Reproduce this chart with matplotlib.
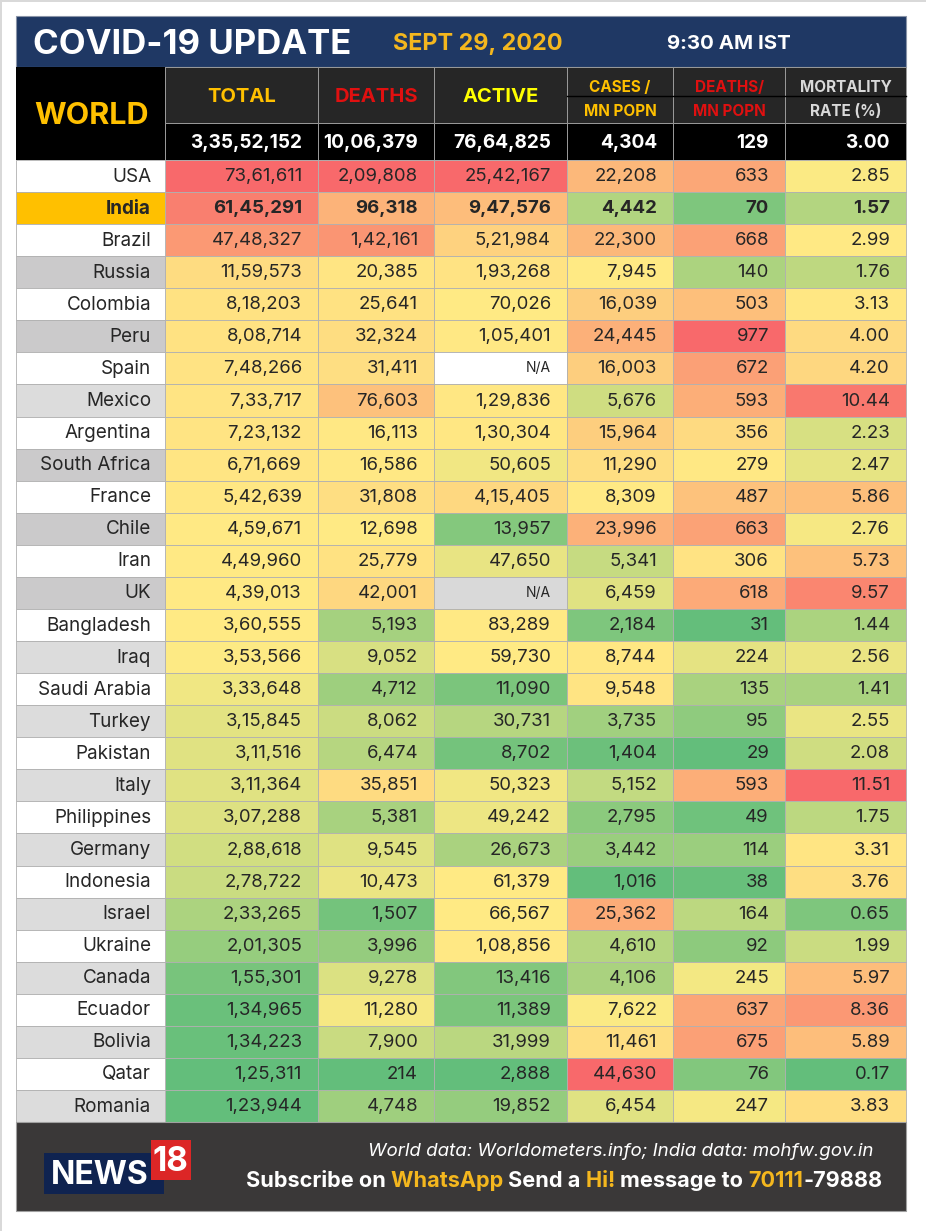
"""COVID-19 world update table, heat coloured per column like a spreadsheet"""

import numpy as np
import matplotlib
matplotlib.use("Agg")
import matplotlib.pyplot as plt
from matplotlib.colors import LinearSegmentedColormap, TwoSlopeNorm
from matplotlib.patches import Rectangle

plt.rcParams["font.family"] = ["Inter", "DejaVu Sans"]

countries = ["USA", "India", "Brazil", "Russia", "Colombia", "Peru", "Spain", "Mexico",
             "Argentina", "South Africa", "France", "Chile", "Iran", "UK", "Bangladesh",
             "Iraq", "Saudi Arabia", "Turkey", "Pakistan", "Italy", "Philippines", "Germany",
             "Indonesia", "Israel", "Ukraine", "Canada", "Ecuador", "Bolivia", "Qatar", "Romania"]
total = [7361611, 6145291, 4748327, 1159573, 818203, 808714, 748266, 733717, 723132, 671669,
         542639, 459671, 449960, 439013, 360555, 353566, 333648, 315845, 311516, 311364,
         307288, 288618, 278722, 233265, 201305, 155301, 134965, 134223, 125311, 123944]
deaths = [209808, 96318, 142161, 20385, 25641, 32324, 31411, 76603, 16113, 16586,
          31808, 12698, 25779, 42001, 5193, 9052, 4712, 8062, 6474, 35851,
          5381, 9545, 10473, 1507, 3996, 9278, 11280, 7900, 214, 4748]
active = [2542167, 947576, 521984, 193268, 70026, 105401, None, 129836, 130304, 50605,
          415405, 13957, 47650, None, 83289, 59730, 11090, 30731, 8702, 50323,
          49242, 26673, 61379, 66567, 108856, 13416, 11389, 31999, 2888, 19852]
cases_mn = [22208, 4442, 22300, 7945, 16039, 24445, 16003, 5676, 15964, 11290,
            8309, 23996, 5341, 6459, 2184, 8744, 9548, 3735, 1404, 5152,
            2795, 3442, 1016, 25362, 4610, 4106, 7622, 11461, 44630, 6454]
deaths_mn = [633, 70, 668, 140, 503, 977, 672, 593, 356, 279,
             487, 663, 306, 618, 31, 224, 135, 95, 29, 593,
             49, 114, 38, 164, 92, 245, 637, 675, 76, 247]
mortality = [2.85, 1.57, 2.99, 1.76, 3.13, 4.00, 4.20, 10.44, 2.23, 2.47,
             5.86, 2.76, 5.73, 9.57, 1.44, 2.56, 1.41, 2.55, 2.08, 11.51,
             1.75, 3.31, 3.76, 0.65, 1.99, 5.97, 8.36, 5.89, 0.17, 3.83]
world_totals = ["3,35,52,152", "10,06,379", "76,64,825", "4,304", "129", "3.00"]
darker_rows = ["Russia", "Peru", "South Africa", "Chile", "UK"]

NAVY = "#1f3864"
GOLD = "#f4b71e"
GRID = "#b0b0b0"
INK = "#262626"
scale = LinearSegmentedColormap.from_list("rdylgn", ["#63be7b", "#ffeb84", "#f8696b"])
col_x = [165, 318, 434, 567, 673, 785, 906]
table_top, row_h = 160, 32.07


def indian(n):
    """group digits the Indian way: 73,61,611"""
    s = str(n)
    if len(s) <= 3:
        return s
    head, tail = s[:-3], s[-3:]
    parts = []
    while len(head) > 2:
        parts.insert(0, head[-2:])
        head = head[:-2]
    parts.insert(0, head)
    return ",".join(parts) + "," + tail


def box(x0, y0, x1, y1, color, edge="none", lw=0.0):
    ax.add_patch(Rectangle((x0, y0), x1 - x0, y1 - y0, facecolor=color, edgecolor=edge, linewidth=lw))


def parts_text(x, y, parts, size, **kw):
    """one line of text with several colours, left to right"""
    r = fig.canvas.get_renderer()
    for s, c in parts:
        t = ax.text(x, y, s, color=c, fontsize=size, va="center", ha="left", **kw)
        x = t.get_window_extent(r).x1


fig = plt.figure(figsize=(9.26, 12.31), dpi=100, facecolor="white")
ax = fig.add_axes([0, 0, 1, 1])
ax.set_xlim(0, 926)
ax.set_ylim(1231, 0)
ax.axis("off")

# page edge
box(0, 0, 926, 2, "#d9d9d9")
box(0, 0, 2, 1231, "#d9d9d9")

# title band
box(16, 16, 906, 67, NAVY, "#8a94a8", 0.8)
ax.text(33, 45, "COVID-19 UPDATE", color="white", fontsize=25, fontweight="bold", va="center")
ax.text(393, 44, "SEPT 29, 2020", color=GOLD, fontsize=16.8, fontweight="bold", va="center")
ax.text(667, 44, "9:30 AM IST", color="white", fontsize=14.7, fontweight="bold", va="center")

# header block
box(16, 67, 165, 160, "black")
ax.text(92, 116, "WORLD", color="#ffc000", fontsize=22, fontweight="bold", ha="center", va="center")
for x0, x1 in zip(col_x[:-1], col_x[1:]):
    box(x0, 67, x1, 123, "#262626", "#9a9a9a", 0.7)
    box(x0, 123, x1, 160, "black", "#9a9a9a", 0.7)
ax.plot([567, 906], [96, 96], color="black", lw=1.0)

for x0, x1, lab, c in zip(col_x[:3], col_x[1:4], ["TOTAL", "DEATHS", "ACTIVE"], ["#ffc000", "#e01010", "#ffff00"]):
    ax.text((x0 + x1) / 2, 97, lab, color=c, fontsize=14.5, fontweight="bold", ha="center", va="center")
heads = [("CASES /", "MN POPN", "#ffc000"), ("DEATHS/", "MN POPN", "#e01010"), ("MORTALITY", "RATE (%)", "#d9d9d9")]
for x0, x1, (top, bot, c) in zip(col_x[3:-1], col_x[4:], heads):
    ax.text((x0 + x1) / 2, 87, top, color=c, fontsize=11, fontweight="bold", ha="center", va="center")
    ax.text((x0 + x1) / 2, 111, bot, color=c, fontsize=11, fontweight="bold", ha="center", va="center")
for x1, lab in zip(col_x[1:], world_totals):
    ax.text(x1 - 16, 143, lab, color="white", fontsize=13.7, fontweight="bold", ha="right", va="center")

# body
columns = [total, deaths, active, cases_mn, deaths_mn, mortality]
formats = [indian, indian, indian, indian, indian, lambda v: f"{v:.2f}"]
for c, (vals, fmt) in enumerate(zip(columns, formats)):
    known = np.array([v for v in vals if v is not None], dtype=float)
    norm = TwoSlopeNorm(vmin=known.min(), vcenter=np.median(known), vmax=known.max())
    for i, v in enumerate(vals):
        y0 = table_top + i * row_h
        if v is None:
            box(col_x[c], y0, col_x[c + 1], y0 + row_h, "white" if i % 2 == 0 else "#d9d9d9", GRID, 0.6)
            ax.text(col_x[c + 1] - 16, y0 + row_h / 2, "N/A", color=INK, fontsize=10, ha="right", va="center")
            continue
        box(col_x[c], y0, col_x[c + 1], y0 + row_h, scale(norm(v)), GRID, 0.6)
        ax.text(col_x[c + 1] - 16, y0 + row_h / 2 + 0.5, fmt(v), color=INK, fontsize=13.4,
                fontweight="bold" if i == 1 else "normal", ha="right", va="center")

for i, name in enumerate(countries):
    y0 = table_top + i * row_h
    if name == "India":
        bg = "#ffc000"
    elif i % 2 == 0:
        bg = "white"
    else:
        bg = "#cbcacb" if name in darker_rows else "#dcdcdc"
    box(16, y0, 165, y0 + row_h, bg, GRID, 0.6)
    ax.text(151, y0 + row_h / 2 + 0.5, name, color=INK, fontsize=13.6,
            fontweight="bold" if name == "India" else "normal", ha="right", va="center")

# footer
box(16, 1122, 906, 1211, "#3a3838", "#a0a0a0", 0.8)
box(44, 1153, 164, 1194, "#0f2350")
box(151, 1140, 191, 1180, "#dc2626")
ax.text(100, 1175, "NEWS", color="white", fontsize=23, fontweight="bold", ha="center", va="center")
ax.text(170.5, 1162, "18", color="white", fontsize=24, fontweight="bold", ha="center", va="center")
ax.text(873, 1151, "World data: Worldometers.info; India data: mohfw.gov.in", color="white",
        fontsize=13.5, style="italic", ha="right", va="center")
fig.canvas.draw()
parts_text(246, 1181, [("Subscribe on ", "white"), ("WhatsApp ", GOLD), ("Send a ", "white"), ("Hi! ", GOLD),
                       ("message to ", "white"), ("70111", GOLD), ("-79888", "white")],
           15.6, fontweight="bold")

fig.savefig("out.png", dpi=100, facecolor="white")
